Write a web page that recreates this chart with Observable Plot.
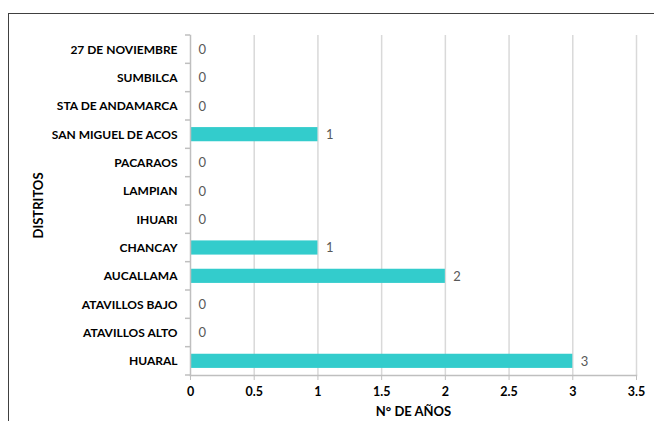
<!DOCTYPE html>
<html>
<head>
<meta charset="utf-8">
<script src="https://cdn.jsdelivr.net/npm/d3@7"></script>
<script src="https://cdn.jsdelivr.net/npm/@observablehq/plot@0.6"></script>
<style>
  html, body { margin: 0; padding: 0; background: #fff; }
  #wrap { position: relative; width: 654px; height: 421px; overflow: hidden; }
  #frame { position: absolute; left: 8px; top: 13px; right: -10px; bottom: -10px;
           border-top: 1.5px solid #404040; border-left: 1.5px solid #404040; pointer-events: none; }
</style>
</head>
<body>
<div id="wrap"><div id="frame"></div></div>
<script>
const categories = ["27 DE NOVIEMBRE", "SUMBILCA", "STA DE ANDAMARCA", "SAN MIGUEL DE ACOS",
  "PACARAOS", "LAMPIAN", "IHUARI", "CHANCAY", "AUCALLAMA", "ATAVILLOS BAJO", "ATAVILLOS ALTO", "HUARAL"];
const values = [0, 0, 0, 1, 0, 0, 0, 1, 2, 0, 0, 3];
const xTicks = [0, 0.5, 1, 1.5, 2, 2.5, 3, 3.5];

const data = categories.map((c, i) => ({distrito: c, anos: values[i]}));
const font = "Lato, 'Open Sans', sans-serif";

const plot = Plot.plot({
  width: 654,
  height: 421,
  marginLeft: 190,
  marginRight: 18,
  marginTop: 35,
  marginBottom: 46,
  style: {fontFamily: font, background: "transparent"},
  x: {domain: [0, 3.5], ticks: xTicks},
  y: {domain: categories, paddingInner: 0.5, paddingOuter: 0.25, round: false},
  marks: [
    Plot.gridX(xTicks.filter(d => d > 0), {stroke: "#d9d9d9", strokeOpacity: 1, strokeWidth: 1.5}),
    Plot.barX(data, {x: "anos", y: "distrito", fill: "#33CCCC"}),
    Plot.frame({anchor: "left", stroke: "#bfbfbf", strokeWidth: 1.5}),
    Plot.frame({anchor: "bottom", stroke: "#bfbfbf", strokeWidth: 1.5}),
    Plot.text(data, {x: "anos", y: "distrito", text: d => String(d.anos), dx: 8, textAnchor: "start",
      fill: "#595959", fontSize: 13}),
    Plot.axisX({ticks: xTicks, tickSize: 5, tickPadding: 7, stroke: "#bfbfbf", fill: "#000",
      fontSize: 12.5, fontWeight: "bold", tickFormat: d => String(d),
      label: "N° DE AÑOS", labelAnchor: "center", labelOffset: 40, labelArrow: "none"}),
    Plot.axisY({tickSize: 0, tickPadding: 13, fill: "#000", fontSize: 12, fontWeight: "bold",
      label: "DISTRITOS", labelAnchor: "center", labelOffset: 157, labelArrow: "none"})
  ]
});

// Excel-style category boundary ticks on the y axis
const ys = plot.scale("y");
const half = (ys.step - ys.bandwidth) / 2;
const bounds = categories.map(c => ys.apply(c) - half);
bounds.push(ys.apply(categories[categories.length - 1]) + ys.bandwidth + half);
d3.select(plot).append("g")
  .selectAll("line").data(bounds).join("line")
  .attr("x1", 185).attr("x2", 190)
  .attr("y1", d => d).attr("y2", d => d)
  .attr("stroke", "#bfbfbf").attr("stroke-width", 1.5);

// style axis labels
d3.select(plot).selectAll("[aria-label='x-axis label'] text, [aria-label='y-axis label'] text")
  .attr("font-weight", "bold").attr("font-size", 13).attr("fill", "#000");

document.getElementById("wrap").insertBefore(plot, document.getElementById("frame"));
</script>
</body>
</html>
